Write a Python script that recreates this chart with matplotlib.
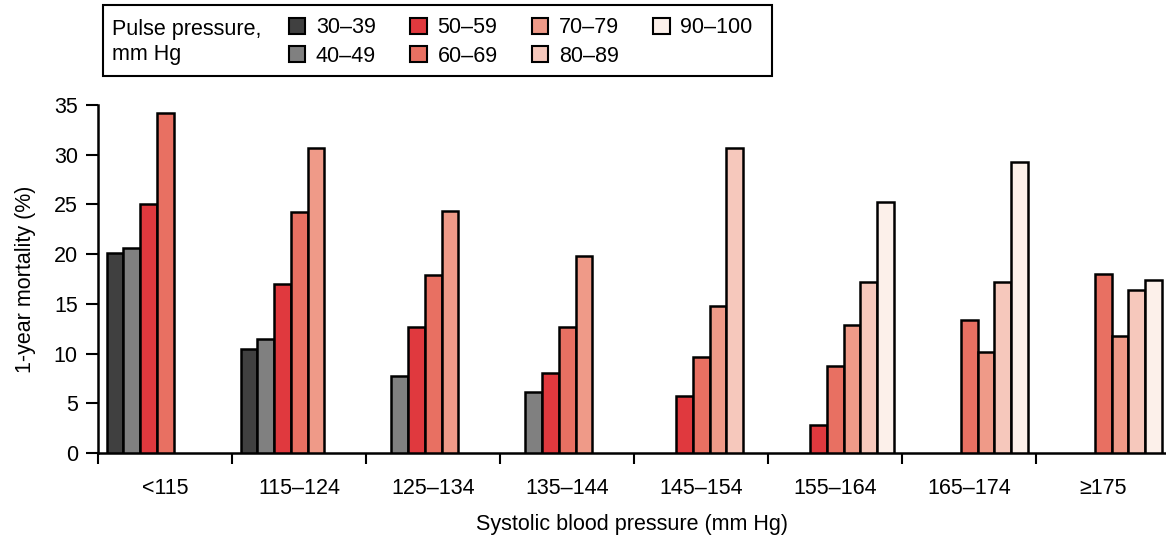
import numpy as np
import matplotlib
matplotlib.use("Agg")
import matplotlib.pyplot as plt
import matplotlib.patches as mpatches

plt.rcParams['font.family'] = ['Liberation Sans', 'DejaVu Sans']

nan = np.nan
sbp_groups = ["<115", "115\u2013124", "125\u2013134", "135\u2013144",
              "145\u2013154", "155\u2013164", "165\u2013174", "\u2265175"]
pp_labels = ["30\u201339", "40\u201349", "50\u201359", "60\u201369",
             "70\u201379", "80\u201389", "90\u2013100"]

pp30 = [20.1, 10.5, nan, nan, nan, nan, nan, nan]
pp40 = [20.6, 11.5, 7.7, 6.1, nan, nan, nan, nan]
pp50 = [25.0, 17.0, 12.7, 8.0, 5.7, 2.8, nan, nan]
pp60 = [34.2, 24.2, 17.9, 12.7, 9.7, 8.8, 13.4, 18.0]
pp70 = [nan, 30.7, 24.3, 19.8, 14.8, 12.9, 10.2, 11.8]
pp80 = [nan, nan, nan, nan, 30.7, 17.2, 17.2, 16.4]
pp90 = [nan, nan, nan, nan, nan, 25.2, 29.3, 17.4]
series = [pp30, pp40, pp50, pp60, pp70, pp80, pp90]

colors = ["#404040", "#808080", "#e0393e", "#e87062",
          "#ef9a88", "#f6c8bc", "#fcf0ea"]

FS = 15.5
fig = plt.figure(figsize=(11.66, 5.38), dpi=100)
W, H = 1166, 538
ax = fig.add_axes([98 / W, 85 / H, (W - 98) / W, (453 - 105) / H])

bw = 0.125
off = 0.065
grp = np.arange(len(sbp_groups))
for k, vals in enumerate(series):
    v = np.array(vals, dtype=float)
    m = ~np.isnan(v)
    ax.bar(grp[m] + off + k * bw, v[m], width=bw, align='edge',
           color=colors[k], edgecolor='black', linewidth=1.8, zorder=3)

ax.set_xlim(0, 7.97)
ax.set_ylim(0, 35)
ax.set_yticks(np.arange(0, 36, 5))
ax.tick_params(axis='y', direction='out', length=8.5, width=1.5,
               labelsize=FS, pad=6)
ax.set_xticks(np.arange(0, 8))
ax.set_xticklabels([])
ax.set_xticks(grp + 0.5, minor=True)
ax.set_xticklabels(sbp_groups, minor=True)
ax.tick_params(axis='x', which='major', direction='out', length=8, width=1.5)
ax.tick_params(axis='x', which='minor', length=0, labelsize=FS, pad=18)

for s in ['top', 'right']:
    ax.spines[s].set_visible(False)
for s in ['left', 'bottom']:
    ax.spines[s].set_linewidth(1.8)

ax.set_ylabel("1-year mortality (%)", fontsize=FS, labelpad=13)
ax.set_xlabel("Systolic blood pressure (mm Hg)", fontsize=FS, labelpad=11)

# legend box
frame = mpatches.Rectangle((103 / W, 1 - 76 / H), (772 - 103) / W, 71 / H,
                           transform=fig.transFigure, facecolor='white',
                           edgecolor='black', linewidth=1.5)
fig.patches.append(frame)
fig.text(112 / W, 1 - 42 / H, "Pulse pressure,\nmm Hg", fontsize=FS,
         va='center', ha='left', linespacing=1.25)
handles = [mpatches.Patch(facecolor=c, edgecolor='black', linewidth=1.5, label=l)
           for c, l in zip(colors, pp_labels)]
fig.legend(handles=handles, ncol=4, loc='center left',
           bbox_to_anchor=(289 / W, 1 - 42 / H), frameon=False,
           fontsize=FS, handlelength=0.75, handleheight=0.75,
           handletextpad=0.5, columnspacing=1.6, labelspacing=0.33,
           borderpad=0, borderaxespad=0)

fig.savefig("out.png", dpi=100)
